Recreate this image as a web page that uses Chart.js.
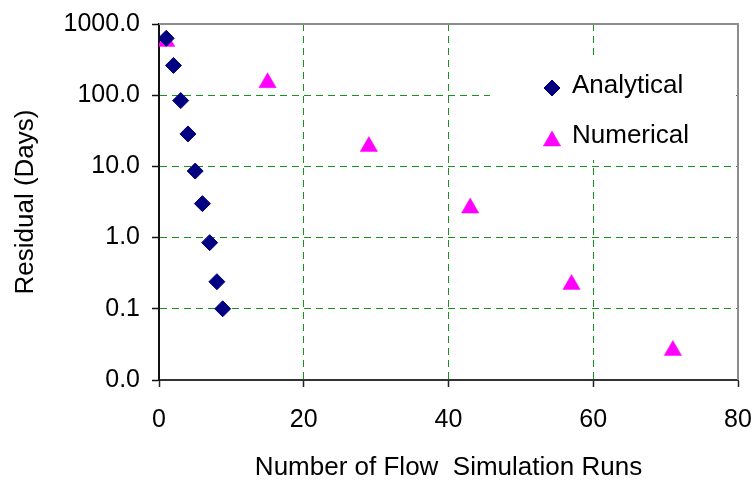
<!DOCTYPE html>
<html>
<head>
<meta charset="utf-8">
<title>Residual vs. flow simulation runs</title>
<script src="https://cdn.jsdelivr.net/npm/chart.js@4.4.1/dist/chart.umd.min.js"></script>
<style>
    html, body { margin: 0; padding: 0; background: #fff; }
</style>
</head>
<body>
<canvas id="residual_chart" width="756" height="486"></canvas>
<script>
// --- Data ---
const seriesNames = ['Analytical', 'Numerical'];
const analyticalRuns = [1, 2, 3, 4, 5, 6, 7, 8, 8.8];
const analyticalResidual = [630, 262, 84, 28.6, 8.6, 3.0, 0.85, 0.24, 0.1];
const numericalRuns = [1, 15, 29, 43, 57, 71];
const numericalResidual = [570, 150, 19, 2.6, 0.22, 0.026];

const xTickValues = [0, 20, 40, 60, 80];
const yTickValues = [0.01, 0.1, 1, 10, 100, 1000];

const xTitle = 'Number of Flow  Simulation Runs';
const yTitle = 'Residual (Days)';

// --- Styling ---
const FONT_FAMILY = "'Liberation Sans', Arial, sans-serif";
const GRID_GREEN = '#1a931a';

function toPoints(xs, ys) {
    return xs.map((x, i) => ({ x: x, y: ys[i] }));
}

// fixed axis sizes, and no extra room reserved for labels hanging over the ends
function fixAxisBox(scale, size) {
    if (scale.isHorizontal()) {
        scale.height = size;
    } else {
        scale.width = size;
    }
    scale.paddingLeft = 0;
    scale.paddingRight = 0;
    scale.paddingTop = 0;
    scale.paddingBottom = 0;
}

// grey frame along the top and right of the plot area
const plotFrame = {
    id: 'plotFrame',
    beforeDatasetsDraw(chart) {
        const { ctx, chartArea: a } = chart;
        ctx.save();
        ctx.strokeStyle = '#8c8c8c';
        ctx.lineWidth = 2;
        ctx.beginPath();
        ctx.moveTo(a.left, a.top);
        ctx.lineTo(a.right, a.top);
        ctx.lineTo(a.right, a.bottom);
        ctx.stroke();
        ctx.restore();
    }
};

// legend drawn inside the plot, on a white box that hides the grid behind it
const insetLegend = {
    id: 'insetLegend',
    afterDatasetsDraw(chart) {
        const { ctx, chartArea: a } = chart;
        const box = { left: a.right - 248, top: a.top + 34, width: 242, height: 102 };
        ctx.save();
        ctx.fillStyle = '#fff';
        ctx.fillRect(box.left, box.top, box.width, box.height);

        chart.data.datasets.forEach((ds, i) => {
            const rowY = box.top + 28 + i * 50;
            const markerY = rowY + (ds.pointStyle === 'triangle' ? 5 : 2);
            ctx.fillStyle = ds.backgroundColor;
            ctx.strokeStyle = ds.borderColor;
            ctx.lineWidth = ds.borderWidth;
            Chart.helpers.drawPoint(ctx, {
                pointStyle: ds.pointStyle,
                radius: ds.pointRadius,
                rotation: 0,
                borderWidth: ds.borderWidth
            }, box.left + 62, markerY);

            ctx.fillStyle = '#000';
            ctx.font = '26px ' + FONT_FAMILY;
            ctx.textAlign = 'left';
            ctx.textBaseline = 'middle';
            ctx.fillText(ds.label, box.left + 82, rowY);
        });
        ctx.restore();
    }
};

const ctx = document.getElementById('residual_chart').getContext('2d');

new Chart(ctx, {
    type: 'scatter',
    data: {
        datasets: [
            {
                label: seriesNames[0],
                data: toPoints(analyticalRuns, analyticalResidual),
                pointStyle: 'rectRot',
                pointRadius: 8,
                backgroundColor: '#000080',
                borderColor: '#000080',
                borderWidth: 1
            },
            {
                label: seriesNames[1],
                data: toPoints(numericalRuns, numericalResidual),
                pointStyle: 'triangle',
                pointRadius: 10,
                backgroundColor: '#ff00ff',
                borderColor: '#ff00ff',
                borderWidth: 0.5
            }
        ]
    },
    options: {
        responsive: false,
        animation: false,
        devicePixelRatio: 1,
        layout: { padding: { top: 24, right: 18, left: 0, bottom: 0 } },
        plugins: {
            legend: { display: false },
            tooltip: { enabled: false }
        },
        scales: {
            x: {
                type: 'linear',
                min: 0,
                max: 80,
                afterBuildTicks: (scale) => {
                    scale.ticks = xTickValues.map(v => ({ value: v }));
                },
                afterFit: (scale) => fixAxisBox(scale, 106),
                ticks: {
                    color: '#000',
                    font: { family: FONT_FAMILY, size: 25 },
                    padding: 18,
                    maxRotation: 0,
                    autoSkip: false
                },
                grid: {
                    color: GRID_GREEN,
                    lineWidth: 1,
                    tickLength: 7,
                    tickColor: '#222',
                    tickWidth: 1.5,
                    tickBorderDash: []
                },
                border: { color: '#333', width: 2, dash: [7, 5] },
                title: {
                    display: true,
                    text: xTitle,
                    color: '#000',
                    font: { family: FONT_FAMILY, size: 26 },
                    padding: { top: 0, bottom: 3 }
                }
            },
            y: {
                type: 'logarithmic',
                min: 0.01,
                max: 1000,
                afterBuildTicks: (scale) => {
                    scale.ticks = yTickValues.map(v => ({ value: v }));
                },
                afterFit: (scale) => fixAxisBox(scale, 159),
                ticks: {
                    color: '#000',
                    font: { family: FONT_FAMILY, size: 25 },
                    padding: 12,
                    autoSkip: false,
                    callback: (value) => Number(value).toFixed(1)
                },
                grid: {
                    color: GRID_GREEN,
                    lineWidth: 1,
                    tickLength: 7,
                    tickColor: '#111',
                    tickWidth: 1.5,
                    tickBorderDash: []
                },
                border: { color: '#111', width: 2, dash: [7, 5] },
                title: {
                    display: true,
                    text: yTitle,
                    color: '#000',
                    font: { family: FONT_FAMILY, size: 26 },
                    padding: { top: 10, bottom: 0 }
                }
            }
        }
    },
    plugins: [plotFrame, insetLegend]
});
</script>
</body>
</html>
